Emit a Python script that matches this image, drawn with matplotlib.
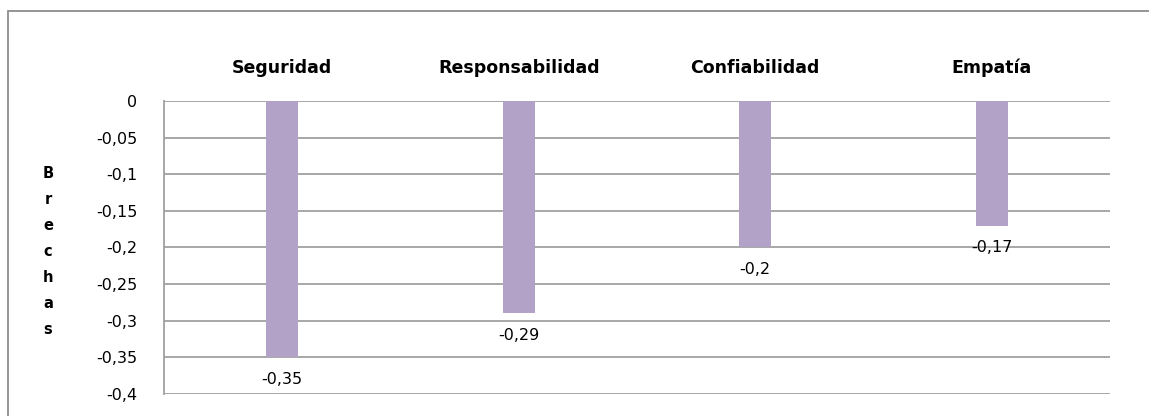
import matplotlib
matplotlib.use("Agg")
import matplotlib.pyplot as plt
from matplotlib.patches import Rectangle
from matplotlib.transforms import ScaledTranslation
import numpy as np

categories = ["Seguridad", "Responsabilidad", "Confiabilidad", "Empatía"]
brechas = [-0.35, -0.29, -0.2, -0.17]
value_labels = ["-0,35", "-0,29", "-0,2", "-0,17"]
y_ticks = [0, -0.05, -0.1, -0.15, -0.2, -0.25, -0.3, -0.35, -0.4]
y_tick_labels = ["0", "-0,05", "-0,1", "-0,15", "-0,2", "-0,25", "-0,3", "-0,35", "-0,4"]
axis_title = "Brechas"

plt.rcParams["font.family"] = ["DejaVu Sans"]

W, H = 1149, 416
DPI = 100
fig = plt.figure(figsize=(W / DPI, H / DPI), dpi=DPI)
fig.patch.set_facecolor("white")

# outer chart frame (runs off the figure on the right and bottom)
fig.patches.append(Rectangle((8 / W, -0.05), 1.2, 1 - 11 / H + 0.05,
                             transform=fig.transFigure, fill=False,
                             edgecolor="#8c8c8c", linewidth=1.3))

left, right, top, bottom = 164, 1110, 101, 394
ax = fig.add_axes([left / W, 1 - bottom / H, (right - left) / W, (bottom - top) / H])

x = np.arange(len(categories))
ax.bar(x, brechas, width=0.135, color="#B3A2C7", zorder=3)

ax.set_xlim(-0.5, len(categories) - 0.5)
ax.set_ylim(-0.4, 0)
ax.set_yticks(y_ticks)
ax.set_yticklabels(y_tick_labels, fontsize=11.5)
ax.tick_params(axis="y", length=0, pad=19)
ax.set_xticks([])

for yv in y_ticks:
    ax.axhline(yv, color="#a0a0a0", linewidth=1.3, zorder=1)

for s in ["top", "right", "bottom"]:
    ax.spines[s].set_visible(False)
ax.spines["left"].set_color("#a0a0a0")
ax.spines["left"].set_linewidth(1.3)

# category names above the plot area
above = ax.get_xaxis_transform() + ScaledTranslation(0, 33 / DPI, fig.dpi_scale_trans)
for xi, cat in zip(x, categories):
    ax.text(xi, 1.0, cat, transform=above, ha="center", va="center",
            fontsize=12.5, fontweight="bold")

# value labels under each bar
for xi, v, lab in zip(x, brechas, value_labels):
    ax.annotate(lab, (xi, v), xytext=(0, -16), textcoords="offset points",
                ha="center", va="center", fontsize=11.5, annotation_clip=False)

# vertical axis title, one letter per line
for i, ch in enumerate(axis_title):
    fig.text(48 / W, 1 - (173 + 26 * i) / H, ch, ha="center", va="center",
             fontsize=10.5, fontweight="bold")

fig.savefig("out.png", dpi=DPI, facecolor="white")
